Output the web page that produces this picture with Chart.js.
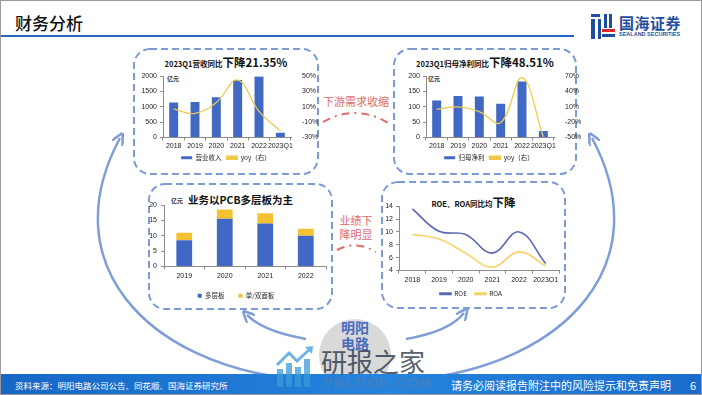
<!DOCTYPE html>
<html>
<head>
<meta charset="utf-8">
<script src="https://cdn.jsdelivr.net/npm/chart.js@4.4.1/dist/chart.umd.min.js"></script>
<style>
  html, body { margin: 0; padding: 0; background: #fff; }
  #slide { position: relative; width: 702px; height: 395px; overflow: hidden; background: #fff;
           border: 1px solid #9a9a9a; box-sizing: border-box; font-family: "Noto Sans CJK SC", "Liberation Sans", sans-serif; }
  .abs { position: absolute; }
  canvas { position: absolute; }
  .title { position: absolute; text-align: center; font-weight: bold; color: #111; white-space: nowrap; line-height: 16px; }
  .unit { position: absolute; font-size: 6px; color: #333; font-weight: bold; }
  .red { position: absolute; color: #e06b6b; font-size: 11px; text-align: center; line-height: 14px; }
</style>
</head>
<body>
<div id="slide">
  <!-- header -->
  <div class="abs" style="left:14px;top:9px;font-size:17px;font-weight:500;color:#111;">财务分析</div>
  <div class="abs" style="left:0;top:34px;width:573px;height:2px;background:#2462c4;"></div>
  <svg class="abs" style="left:589px;top:13px;" width="26" height="25" viewBox="0 0 26 25">
    <rect x="1" y="0" width="9" height="3" fill="#1f4ea0"/>
    <rect x="1" y="5" width="4" height="20" fill="#1f4ea0"/>
    <rect x="8" y="5" width="3" height="20" fill="#1f4ea0"/>
    <rect x="14" y="0" width="3" height="14" fill="#1f4ea0"/>
    <rect x="19" y="0" width="3" height="14" fill="#1f4ea0"/>
    <rect x="12" y="15" width="13" height="3" fill="#e0262b"/>
    <rect x="12" y="20" width="13" height="3" fill="#1f4ea0"/>
  </svg>
  <div class="abs" style="left:618px;top:11px;font-size:15px;font-weight:bold;color:#1f4ea0;letter-spacing:0.5px;">国海证券</div>
  <div class="abs" style="left:618px;top:30px;font-size:5.5px;font-weight:bold;color:#1f4ea0;font-family:'Liberation Sans';">SEALAND SECURITIES</div>

  <!-- decorations: dashed boxes, arcs -->
  <svg class="abs" style="left:0;top:0;" width="702" height="395">
    <defs>
      <marker id="ah2" markerWidth="12" markerHeight="12" refX="6" refY="6" orient="auto" markerUnits="userSpaceOnUse">
        <path d="M0,0 L12,6 L0,12" fill="none" stroke="#7f9ed8" stroke-width="2.5"/>
      </marker>
    </defs>
    <g fill="none" stroke="#7d9bd3" stroke-width="2" stroke-dasharray="7 4">
      <rect x="133" y="48" width="184" height="125" rx="16"/>
      <rect x="393" y="48" width="182" height="125" rx="16"/>
      <rect x="148" y="183" width="183" height="125" rx="16"/>
      <rect x="381" y="181" width="183" height="126" rx="16"/>
    </g>
    <g fill="none" stroke="#7f9ed8" stroke-width="2.5">
      <path d="M292 378 C145 362, 52 262, 119 137" marker-end="url(#ah2)"/>
      <path d="M418 378 C565 362, 658 262, 591 137" marker-end="url(#ah2)"/>
      <path d="M305 338 C282 334, 258 326, 246 314" marker-end="url(#ah2)"/>
      <path d="M405 338 C428 334, 452 326, 463 312" marker-end="url(#ah2)"/>
    </g>
    <g fill="none" stroke="#e06b6b" stroke-width="2" stroke-dasharray="8 5 2 5">
      <path d="M322 121 Q355 102 389 123"/>
      <path d="M336 249 Q355 239 375 251"/>
    </g>
  </svg>

  <div class="red" style="left:318px;top:93px;width:74px;">下游需求收缩</div>
  <div class="red" style="left:330px;top:212px;width:50px;">业绩下<br>降明显</div>

  <!-- chart titles -->
  <div class="title" style="left:133px;top:51px;width:184px;"><span style="font-size:7.5px;">2023Q1营收同比</span><span style="font-size:11.5px;">下降21.35%</span></div>
  <div class="title" style="left:393px;top:51px;width:182px;"><span style="font-size:7.5px;">2023Q1归母净利同比</span><span style="font-size:11.5px;">下降48.51%</span></div>
  <div class="unit" style="left:166px;top:73px;">亿元</div>
  <div class="unit" style="left:427px;top:73px;">亿元</div>
  <div class="unit" style="left:170px;top:195px;">亿元</div>
  <div class="title" style="left:187px;top:191px;font-size:10.5px;">业务以PCB多层板为主</div>
  <div class="title" style="left:381px;top:191px;width:183px;"><span style="font-size:7.5px;">ROE、ROA同比均</span><span style="font-size:11.5px;">下降</span></div>

  <canvas id="revChart" width="190" height="102" style="left:130px;top:68px;"></canvas>
  <canvas id="profitChart" width="190" height="102" style="left:393px;top:68px;"></canvas>
  <canvas id="pcbChart" width="190" height="112" style="left:145px;top:196px;"></canvas>
  <canvas id="roeChart" width="180" height="108" style="left:382px;top:198px;"></canvas>

  <!-- center circle -->
  <div class="abs" style="left:318px;top:318px;width:72px;height:72px;border-radius:50%;background:#d9d9d9;"></div>
  <div class="abs" style="left:318px;top:318px;width:72px;text-align:center;color:#4a6cc0;font-weight:bold;font-size:14px;line-height:16px;">明阳<br>电路</div>

  <!-- footer -->
  <div class="abs" style="left:0;top:373px;width:702px;height:22px;background:linear-gradient(90deg,#1766c6,#2584de 55%,#1a6ccc);"></div>
  <div class="abs" style="left:14px;top:378px;font-size:8.5px;color:#fff;">资料来源：明阳电路公司公告、同花顺、国海证券研究所</div>
  <div class="abs" style="left:450px;top:376px;font-size:11px;color:#fff;">请务必阅读报告附注中的风险提示和免责声明</div>
  <div class="abs" style="left:689px;top:376px;font-size:11px;color:#fff;">6</div>

  <!-- watermark -->
  <svg class="abs" style="left:274px;top:344px;opacity:0.75;" width="42" height="42" viewBox="0 0 42 42">
    <rect x="2" y="24" width="6" height="18" fill="#3b9ad8"/>
    <rect x="11" y="18" width="6" height="24" fill="#3b9ad8"/>
    <rect x="20" y="22" width="6" height="20" fill="#3b9ad8"/>
    <rect x="29" y="14" width="6" height="28" fill="#3b9ad8"/>
    <path d="M2 20 L14 8 L22 16 L36 3" fill="none" stroke="#3b9ad8" stroke-width="3"/>
    <path d="M30 2 L38 1 L37 9 Z" fill="#3b9ad8"/>
  </svg>
  <div class="abs" style="left:320px;top:341px;font-size:26px;color:#2b3a4a;opacity:0.8;">研报之家</div>
  <div class="abs" style="left:322px;top:373px;font-size:15px;font-weight:bold;color:#4d7fb8;opacity:0.7;font-family:'Liberation Sans Narrow','Liberation Sans';letter-spacing:0.5px;">YBLOOK.COM</div>
</div>

<script>
// --- Data ---
const years = ['2018', '2019', '2020', '2021', '2022', '2023Q1'];
const revenue = [1146, 1155, 1311, 1874, 1990, 155];
const revenueYoy = [7.3, 1.5, 15.8, 45.0, 4.2, -21.35];
const netProfit = [121, 135, 134, 110, 183, 21];
const netProfitYoy = [5.3, 10.0, 0.7, -21.0, 67.0, -48.51];

const pcbYears = ['2019', '2020', '2021', '2022'];
const multiLayer = [8.6, 15.6, 14.0, 10.0];
const singleDouble = [2.4, 3.0, 3.4, 2.3];

const roe = [13.6, 10.1, 9.6, 6.7, 10.0, 5.1];
const roa = [9.6, 8.9, 6.7, 4.5, 6.9, 4.7];

// --- Shared styling ---
const BLUE = '#4169c4';
const GOLD = '#f4c133';
const LINE_GOLD = '#efc94c';
const tickFont = { family: 'Liberation Sans', size: 7 };
const axisGrid = { drawOnChartArea: false, drawTicks: true, tickLength: 3, color: '#8c8c8c' };
const axisBorder = { display: true, color: '#8c8c8c', width: 1 };
const xTicks = { font: tickFont, color: '#222', padding: 1, maxRotation: 0, minRotation: 0, autoSkip: false };

function legendOpts() {
    return {
        display: true,
        position: 'bottom',
        labels: {
            font: { family: 'Noto Sans CJK SC', size: 6.5 },
            color: '#222',
            boxWidth: 11,
            boxHeight: 3,
            padding: 5,
            sort: (a, b) => a.datasetIndex - b.datasetIndex
        }
    };
}

function baseOptions(padRight) {
    return {
        responsive: false,
        animation: false,
        devicePixelRatio: 1,
        layout: { padding: { top: 4, right: padRight || 0, bottom: 0, left: 0 } },
        plugins: { legend: legendOpts(), tooltip: { enabled: false } }
    };
}

// Bar + yoy line combo (top two charts)
function comboChart(canvasId, barLabel, bars, yoy, leftMax, leftStep, rightMin, rightMax, rightStep) {
    const opts = baseOptions();
    opts.scales = {
        x: {
            ticks: xTicks,
            grid: axisGrid, border: axisBorder,
            afterFit: s => { s.height = 12; }
        },
        y: {
            min: 0, max: leftMax,
            ticks: { stepSize: leftStep, font: tickFont, color: '#222', padding: 3, callback: v => String(v) },
            grid: axisGrid, border: axisBorder,
            afterFit: s => { s.width = 32; }
        },
        y1: {
            position: 'right', min: rightMin, max: rightMax,
            ticks: { stepSize: rightStep, font: tickFont, color: '#222', padding: 3, callback: v => v + '%' },
            grid: { display: false }, border: { display: false },
            afterFit: s => { s.width = 30; }
        }
    };
    return new Chart(document.getElementById(canvasId), {
        type: 'bar',
        data: {
            labels: years,
            datasets: [
                { type: 'bar', label: barLabel, data: bars, backgroundColor: BLUE,
                  barPercentage: 0.42, categoryPercentage: 1, order: 1 },
                { type: 'line', label: 'yoy（右）', data: yoy, yAxisID: 'y1', borderColor: LINE_GOLD,
                  backgroundColor: LINE_GOLD, borderWidth: 1.3, pointRadius: 0, tension: 0.4, clip: false, order: 0 }
            ]
        },
        options: opts
    });
}

comboChart('revChart', '营业收入', revenue, revenueYoy, 2000, 500, -30, 50, 20);
comboChart('profitChart', '归母净利', netProfit, netProfitYoy, 200, 50, -50, 70, 30);

// Stacked PCB chart
const pcbOpts = baseOptions(10);
pcbOpts.plugins.legend.labels.boxWidth = 4;
pcbOpts.plugins.legend.labels.boxHeight = 4;
pcbOpts.plugins.legend.labels.padding = 14;
pcbOpts.scales = {
    x: {
        stacked: true,
        ticks: Object.assign({}, xTicks, { padding: 2 }),
        grid: axisGrid, border: axisBorder,
        afterFit: s => { s.height = 12; }
    },
    y: {
        stacked: true, min: 0, max: 20,
        ticks: { stepSize: 5, font: tickFont, color: '#222', padding: 4 },
        grid: axisGrid, border: axisBorder,
        afterFit: s => { s.width = 18; }
    }
};
new Chart(document.getElementById('pcbChart'), {
    type: 'bar',
    data: {
        labels: pcbYears,
        datasets: [
            { label: '多层板', data: multiLayer, backgroundColor: BLUE, barPercentage: 0.39, categoryPercentage: 1 },
            { label: '单/双面板', data: singleDouble, backgroundColor: GOLD, barPercentage: 0.39, categoryPercentage: 1 }
        ]
    },
    options: pcbOpts
});

// ROE / ROA lines
const roeOpts = baseOptions(4);
roeOpts.plugins.legend.labels.boxHeight = 1.5;
roeOpts.plugins.legend.labels.padding = 8;
roeOpts.scales = {
    x: {
        offset: true,
        ticks: Object.assign({}, xTicks, { padding: 2 }),
        grid: Object.assign({}, axisGrid, { offset: true }), border: axisBorder,
        afterFit: s => { s.height = 12; }
    },
    y: {
        min: 4, max: 14,
        ticks: { stepSize: 2, font: tickFont, color: '#222', padding: 3 },
        grid: axisGrid, border: axisBorder,
        afterFit: s => { s.width = 16; }
    }
};
new Chart(document.getElementById('roeChart'), {
    type: 'line',
    data: {
        labels: years,
        datasets: [
            { label: 'ROE', data: roe, borderColor: '#5a67b5', backgroundColor: '#5a67b5',
              borderWidth: 1.6, pointRadius: 0, tension: 0.4 },
            { label: 'ROA', data: roa, borderColor: '#f6d366', backgroundColor: '#f6d366',
              borderWidth: 1.6, pointRadius: 0, tension: 0.4 }
        ]
    },
    options: roeOpts
});
</script>
</body>
</html>
